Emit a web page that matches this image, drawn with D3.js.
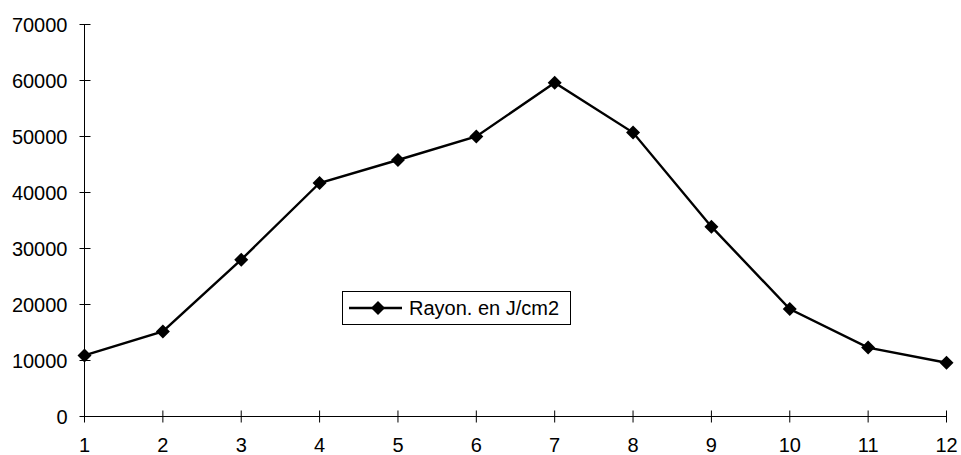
<!DOCTYPE html>
<html>
<head>
<meta charset="utf-8">
<script src="https://cdn.jsdelivr.net/npm/d3@7"></script>
<style>
  html, body { margin: 0; padding: 0; background: #fff; }
  svg { display: block; font-family: "Liberation Sans", Arial, sans-serif; }
</style>
</head>
<body>
<svg id="chart" width="961" height="455"></svg>
<script>
// Monthly radiation (J/cm2), months 1..12
const months = [1, 2, 3, 4, 5, 6, 7, 8, 9, 10, 11, 12];
const radiation = [10900, 15200, 28000, 41700, 45800, 50000, 59600, 50700, 33900, 19200, 12300, 9600];
const yTicks = [0, 10000, 20000, 30000, 40000, 50000, 60000, 70000];
const seriesName = "Rayon. en J/cm2";

const svg = d3.select("#chart");
const x = d3.scaleLinear().domain([1, 12]).range([84.5, 946.5]);
const y = d3.scaleLinear().domain([0, 70000]).range([416.5, 24.5]);

// Y axis: ticks crossing the axis line
const yAxis = svg.append("g").attr("transform", `translate(${x(1)},0)`);
yAxis.append("line").attr("y1", y(0)).attr("y2", y(70000)).attr("stroke", "#000");
yAxis.selectAll("line.tick").data(yTicks).join("line")
  .attr("class", "tick")
  .attr("x1", -5).attr("x2", 6)
  .attr("y1", d => y(d)).attr("y2", d => y(d))
  .attr("stroke", "#000");
yAxis.selectAll("text").data(yTicks).join("text")
  .attr("x", -17).attr("y", d => y(d)).attr("dy", "0.36em")
  .attr("text-anchor", "end").attr("font-size", 20).attr("fill", "#000")
  .text(d => d);

// X axis
const xAxis = svg.append("g").attr("transform", `translate(0,${y(0)})`);
xAxis.append("line").attr("x1", x(1)).attr("x2", x(12)).attr("stroke", "#000");
xAxis.selectAll("line.tick").data(months).join("line")
  .attr("class", "tick")
  .attr("x1", d => x(d)).attr("x2", d => x(d))
  .attr("y1", -6).attr("y2", 6)
  .attr("stroke", "#000");
xAxis.selectAll("text").data(months).join("text")
  .attr("x", d => x(d)).attr("y", 35)
  .attr("text-anchor", "middle").attr("font-size", 20).attr("fill", "#000")
  .text(d => d);

// Series line
const pts = months.map((m, i) => [m, radiation[i]]);
svg.append("path")
  .datum(pts)
  .attr("fill", "none").attr("stroke", "#000").attr("stroke-width", 2.4)
  .attr("d", d3.line().x(d => x(d[0])).y(d => y(d[1])));

// Diamond markers
const diamond = r => `M0,${-r}L${r},0L0,${r}L${-r},0Z`;
svg.selectAll("path.marker").data(pts).join("path")
  .attr("class", "marker")
  .attr("transform", d => `translate(${x(d[0])},${y(d[1])})`)
  .attr("d", diamond(7))
  .attr("fill", "#000");

// Legend
const lg = svg.append("g");
lg.append("rect").attr("x", 342.5).attr("y", 291.5).attr("width", 228).attr("height", 33)
  .attr("fill", "#fff").attr("stroke", "#000");
lg.append("line").attr("x1", 349).attr("x2", 402).attr("y1", 308).attr("y2", 308)
  .attr("stroke", "#000").attr("stroke-width", 2.4);
lg.append("path").attr("transform", "translate(378,308)").attr("d", diamond(7)).attr("fill", "#000");
lg.append("text").attr("x", 409).attr("y", 308).attr("dy", "0.36em")
  .attr("font-size", 20).attr("fill", "#000").text(seriesName);
</script>
</body>
</html>
